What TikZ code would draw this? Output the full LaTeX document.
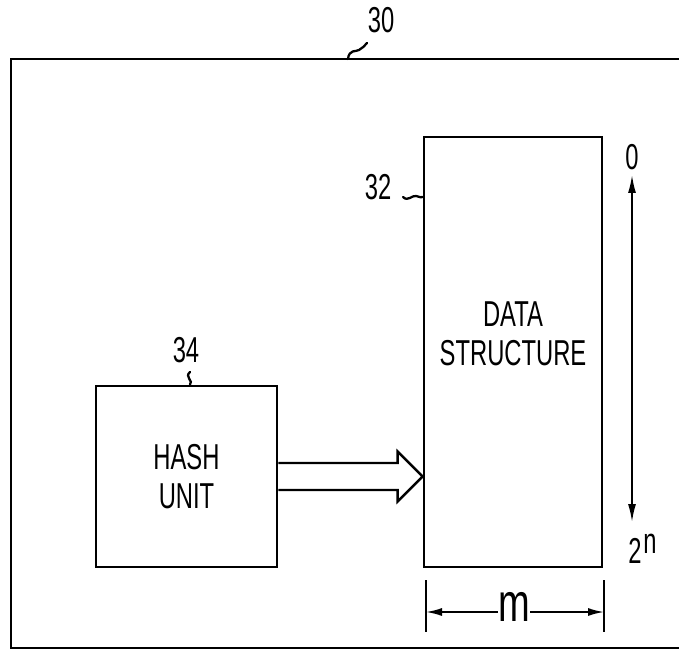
\documentclass[tikz,border=0pt]{standalone}
\usepackage{fontspec}
\setmainfont{Liberation Sans}[FakeStretch=0.66]
\usetikzlibrary{positioning, arrows.meta, calc}
\tikzset{
    base/.style={draw, line width=1.6pt, align=center, inner sep=0pt},
    box/.style={base, rectangle},
    txt/.style={font=\fontsize{20.5}{22.2}\selectfont, align=center, inner sep=0pt},
    refnum/.style={font=\fontsize{20.5}{22}\selectfont, inner sep=0pt},
    squiggle/.style={line width=1.3pt, line cap=round},
    frame/.style={line width=1.7pt},
    fatarrow/.style={line width=1.4pt, line join=miter},
    dimarrow/.style={line width=1pt, -{Latex[length=3.2mm, width=1.6mm]}},
    spanarrow/.style={line width=1pt, {Latex[length=3.6mm, width=1.6mm]}-{Latex[length=3.6mm, width=1.6mm]}},
    tick/.style={line width=1pt}
}

\begin{document}
\begin{tikzpicture}[x=0.02cm, y=-0.02cm]
    \useasboundingbox (0,0) rectangle (679,651);
    % Frame 30 (open on the right)
    \draw [frame] (690,59) -- (11,59) -- (11,648) -- (690,648);
    \node [refnum] (n30) at (381,20) {30};
    \draw [squiggle] (348,59) .. controls (349,49) and (356,52) .. (359,50) .. controls (362,48) and (365,46) .. (367,43);

    % Nodes
    \node [box, minimum width=3.56cm, minimum height=8.6cm] (data) at (513,352) {};
    \node [txt] (datatext) at (513,334) {DATA\\STRUCTURE};
    \node [box, txt, minimum width=3.62cm, minimum height=3.62cm] (hash) at (186.5,476.5) {HASH\\UNIT};

    \node [refnum] (n32) at (378,187) {32};
    \draw [squiggle] (403,197) .. controls (408,202) and (412,195) .. (416,196) .. controls (420,197) and (422,198) .. (data.west |- 0,197);
    \node [refnum] (n34) at (186,350) {34};
    \draw [squiggle] (190,372) .. controls (184,377) and (194,381) .. (hash.north -| 190,0);

    % Connections
    \coordinate (tip) at (data.west |- hash.east);
    \draw [fatarrow] ($(hash.east)+(0,-13.5)$) -- ($(tip)+(-25,-13.5)$) -- ($(tip)+(-25,-25)$)
        -- (tip) -- ($(tip)+(-25,25)$) -- ($(tip)+(-25,13.5)$) -- ($(hash.east)+(0,13.5)$);

    % Range 0 .. 2^n
    \node [refnum] (top) at (632,157) {0};
    \node [refnum, anchor=base west] (bottom) at (628,563) {2\kern1pt\raisebox{0.2cm}{n}};
    \coordinate (spantop) at (632,175);
    \coordinate (spanbot) at (632,522);
    \draw [spanarrow] (spantop) -- (spanbot);

    % Width m
    \node [refnum, xscale=1.6, yscale=1.5] (m) at (514,607) {m};
    \coordinate (mleft) at (426,612);
    \coordinate (mright) at (604,612);
    \draw [tick] (426,580) -- (426,632);
    \draw [tick] (604,580) -- (604,632);
    \draw [dimarrow] (m.west |- mleft) -- (mleft);
    \draw [dimarrow] (m.east |- mright) -- (mright);
\end{tikzpicture}
\end{document}
